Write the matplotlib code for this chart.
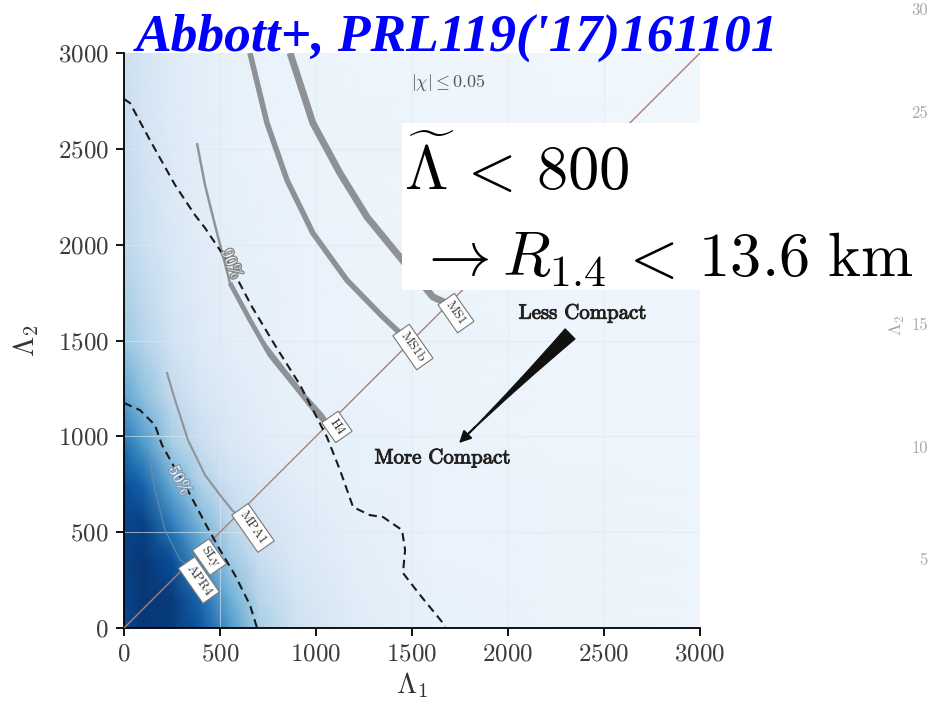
import numpy as np
import matplotlib
matplotlib.use("Agg")
import matplotlib.pyplot as plt
import matplotlib.patheffects as pe
from matplotlib.patches import Rectangle

plt.rcParams['font.family'] = ['cmr10', 'DejaVu Serif']
plt.rcParams['mathtext.fontset'] = 'cm'
plt.rcParams['axes.formatter.use_mathtext'] = True

# ---------------- data ----------------
ticks = [0, 500, 1000, 1500, 2000, 2500, 3000]

# background probability density (0..1 colormap index)
dens_l1 = [0, 100, 250, 400, 550, 700, 900, 1200, 1600, 2200, 3000]
dens_l2 = [0, 150, 350, 550, 750, 950, 1200, 1500, 2000, 2500, 3000]
dens = [  # rows = dens_l2, cols = dens_l1
    [0.90, 0.97, 0.95, 0.85, 0.60, 0.35, 0.20, 0.12, 0.08, 0.06, 0.05],
    [0.92, 0.97, 0.95, 0.78, 0.50, 0.30, 0.18, 0.11, 0.08, 0.06, 0.05],
    [0.93, 0.97, 0.88, 0.60, 0.38, 0.24, 0.15, 0.10, 0.07, 0.06, 0.05],
    [0.92, 0.93, 0.70, 0.45, 0.28, 0.19, 0.13, 0.09, 0.07, 0.06, 0.05],
    [0.88, 0.80, 0.50, 0.32, 0.21, 0.15, 0.11, 0.08, 0.07, 0.06, 0.05],
    [0.75, 0.60, 0.36, 0.23, 0.16, 0.12, 0.09, 0.08, 0.06, 0.05, 0.05],
    [0.55, 0.42, 0.26, 0.17, 0.13, 0.10, 0.08, 0.07, 0.06, 0.05, 0.05],
    [0.38, 0.30, 0.19, 0.13, 0.10, 0.09, 0.07, 0.06, 0.06, 0.05, 0.05],
    [0.28, 0.22, 0.15, 0.11, 0.09, 0.08, 0.07, 0.06, 0.05, 0.05, 0.05],
    [0.24, 0.19, 0.13, 0.10, 0.08, 0.07, 0.06, 0.06, 0.05, 0.05, 0.04],
    [0.22, 0.17, 0.12, 0.09, 0.08, 0.07, 0.06, 0.05, 0.05, 0.04, 0.04],
]

# dashed credible contours
c90_l1 = [0, 31, 135, 266, 370, 422, 552, 667, 786, 917, 1057, 1125, 1193, 1281, 1349, 1448, 1464, 1453, 1542, 1661, 1672]
c90_l2 = [2760, 2739, 2546, 2311, 2154, 2087, 1894, 1675, 1476, 1268, 996, 824, 631, 589, 579, 511, 407, 287, 172, 26, 0]
c50_l1 = [0, 83, 161, 198, 250, 318, 422, 500, 578, 656, 693]
c50_l2 = [1174, 1137, 1059, 955, 860, 746, 548, 407, 276, 120, 0]

# thin grey curves
g90_l1 = [380, 422, 474, 552, 656, 719, 839, 943, 1036, 1065]
g90_l2 = [2530, 2311, 2102, 1800, 1607, 1502, 1346, 1215, 1111, 1065]
g50_l1 = [224, 266, 333, 422, 500, 562, 590]
g50_l2 = [1330, 1189, 981, 798, 694, 616, 590]
g3_l1 = [125, 161, 214, 292, 330]
g3_l2 = [929, 720, 511, 355, 330]

# EOS curves (thick grey)
ms1_l1 = [865, 984, 1125, 1266, 1437, 1609, 1690]
ms1_l2 = [3000, 2634, 2373, 2144, 1935, 1727, 1690]
ms1b_l1 = [656, 745, 849, 984, 1161, 1349, 1490]
ms1b_l2 = [3000, 2634, 2337, 2060, 1815, 1622, 1490]
h4_l1 = [552, 656, 760, 865, 969, 1036, 1065]
h4_l2 = [1800, 1607, 1424, 1294, 1163, 1085, 1065]

eos_names = ['MS1', 'MS1b', 'H4', 'MPA1', 'SLy', 'APR4']
eos_lab_l1 = [1729, 1505, 1109, 672, 445, 390]
eos_lab_l2 = [1643, 1466, 1049, 522, 370, 250]

# ghost tick labels of the neighbouring panel (value, pixel row)
ghost_vals = ['30', '25', '15', '10', '5']
ghost_rows = [10, 113, 325, 448, 560]

# ---------------- figure ----------------
fig = plt.figure(figsize=(9.29, 7.04), dpi=100)
ax = fig.add_axes([124/929, 1-628/704, 576/929, 575/704])

X, Y = np.meshgrid(dens_l1, dens_l2)
ax.pcolormesh(X, Y, np.array(dens), cmap='Blues', vmin=0, vmax=1,
              shading='gouraud', zorder=0, rasterized=True)

for t in ticks[1:-1]:
    ax.axvline(t, color='#dfe7ee', lw=0.8, alpha=0.6, zorder=1)
    ax.axhline(t, color='#dfe7ee', lw=0.8, alpha=0.6, zorder=1)

# thin grey lines
ax.plot(g90_l1, g90_l2, color='#8f9499', lw=1.8, zorder=3, solid_capstyle='butt')
ax.plot(g50_l1, g50_l2, color='#8f9499', lw=1.5, zorder=3)
ax.plot(g3_l1, g3_l2, color='#6d8aa8', lw=1.0, zorder=3, alpha=0.8)

# EOS thick lines
ax.plot(ms1_l1, ms1_l2, color='#8e9296', lw=5, zorder=3, solid_capstyle='butt')
ax.plot(ms1b_l1, ms1b_l2, color='#8e9296', lw=4, zorder=3, solid_capstyle='butt')
ax.plot(h4_l1, h4_l2, color='#8e9296', lw=3.5, zorder=3, solid_capstyle='butt')

# diagonal
ax.plot([0, 3000], [0, 3000], color='#b07d7d', lw=1.0, zorder=4)

# dashed contours
ax.plot(c90_l1, c90_l2, color='#1a1a1a', lw=1.5, ls=(0, (4, 2.5)), zorder=5)
ax.plot(c50_l1, c50_l2, color='#1a1a1a', lw=1.5, ls=(0, (4, 2.5)), zorder=5)

# EOS labels
for name, lx, ly in zip(eos_names, eos_lab_l1, eos_lab_l2):
    ax.text(lx, ly, name, rotation=-55, ha='center', va='center', fontsize=9.5,
            color='#333333', zorder=6,
            bbox=dict(boxstyle='square,pad=0.3', fc='white', ec='#777777', lw=0.8))

# percentage labels
ax.text(560, 1900, '90%', rotation=-68, ha='center', va='center', fontsize=12,
        color='#f4f4f4', zorder=6,
        path_effects=[pe.withStroke(linewidth=2, foreground='#8a8a8a')])
ax.text(290, 770, '50%', rotation=-62, ha='center', va='center', fontsize=12,
        color='white', zorder=6,
        path_effects=[pe.withStroke(linewidth=2, foreground='#7f9bb8')])

ax.text(1690, 2845, r'$|\chi| \leq 0.05$', ha='center', va='center', fontsize=13,
        color='#555555', zorder=6)

# compactness arrow and labels
ax.annotate('', xy=(1790, 1010), xytext=(2323, 1534),
            arrowprops=dict(arrowstyle='wedge,tail_width=1.0,shrink_factor=0.35',
                            fc='#111111', ec='#111111', shrinkA=0, shrinkB=0), zorder=6)
ax.annotate('', xy=(1745, 965), xytext=(1830, 1050),
            arrowprops=dict(arrowstyle='-|>,head_width=0.35,head_length=0.7',
                            fc='#111111', ec='#111111', lw=1.5, shrinkA=0, shrinkB=0), zorder=6)
stroke = [pe.withStroke(linewidth=0.7, foreground='#222222')]
ax.text(2390, 1640, 'Less Compact', ha='center', va='center', fontsize=15,
        color='#222222', zorder=6, path_effects=stroke)
ax.text(1660, 885, 'More Compact', ha='center', va='center', fontsize=15,
        color='#222222', zorder=6, path_effects=stroke)

ax.set_xlim(0, 3000)
ax.set_ylim(0, 3000)
ax.set_xticks(ticks)
ax.set_yticks(ticks)
for s in ['top', 'right']:
    ax.spines[s].set_visible(False)
for s in ['left', 'bottom']:
    ax.spines[s].set_linewidth(1.3)
ax.tick_params(direction='out', length=6, width=1.3, labelsize=18,
               labelcolor='#3a3a3a', pad=5)
ax.set_xlabel(r'$\Lambda_1$', fontsize=21, color='#333333', labelpad=3)
ax.set_ylabel(r'$\Lambda_2$', fontsize=21, color='#333333', labelpad=12)

# ghost tick labels of neighbouring panel (right edge)
for g, row in zip(ghost_vals, ghost_rows):
    fig.text(928/929, 1 - row / 704, g,
             fontsize=12, color='#a8a8a8', ha='right', va='center', zorder=2)
fig.text(897/929, 1 - 325/704, r'$\Lambda_2$', fontsize=13, color='#a8a8a8',
         rotation=90, ha='center', va='center')

# white box with big annotation
fig.patches.append(Rectangle((402/929, 1 - 290/704), (922 - 402)/929, (290 - 123)/704,
                             transform=fig.transFigure, fc='white', ec='none', zorder=10))
fig.text(404/929, 1 - 190/704, r'$\widetilde{\Lambda}\, <\, 800$', fontsize=45,
         ha='left', va='baseline', color='black', zorder=11)
fig.text(418/929, 1 - 276/704, r'$\rightarrow R_{1.4}\, <\, 13.6\ \mathrm{km}$', fontsize=45,
         ha='left', va='baseline', color='black', zorder=11)

# title
fig.text(457/929, 1 - 51/704, "Abbott+, PRL119('17)161101", fontsize=38.5,
         family='Liberation Serif', weight='bold', style='italic', color='#0000ff',
         ha='center', va='baseline', zorder=12)

fig.savefig('out.png', dpi=100)
